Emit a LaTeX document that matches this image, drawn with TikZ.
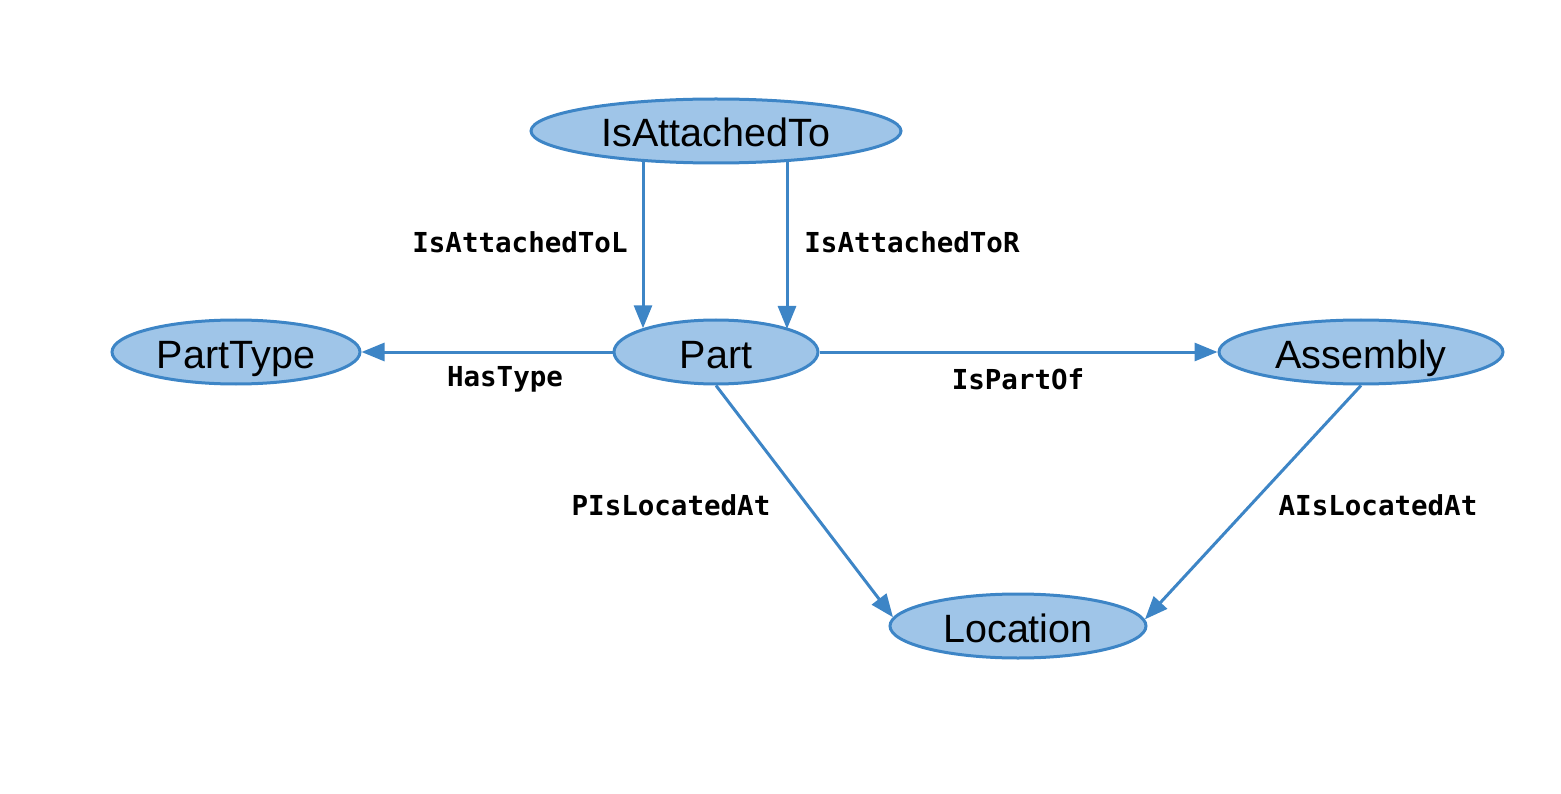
\documentclass[tikz,border=0pt]{standalone}
\usepackage{fontspec}
\setmainfont{Liberation Sans}
\newfontfamily\lblfont{DejaVu Sans Mono}
\usetikzlibrary{shapes.geometric,arrows.meta}
\definecolor{nfill}{HTML}{9FC5E8}
\definecolor{nline}{HTML}{3D85C6}
\tikzset{
  ent/.style={ellipse, draw=nline, fill=nfill, line width=3pt, inner sep=0pt,
    font=\fontsize{39.5}{42}\selectfont, text=black, text height=32pt, text depth=0pt},
  edge/.style={draw=nline, line width=3pt, -{Triangle[length=23pt,width=18pt]}},
  lbl/.style={font=\lblfont\bfseries\fontsize{27.5}{30}\selectfont, text=black, inner sep=0pt}
}
\begin{document}
\begin{tikzpicture}[x=1pt,y=-1pt]
\useasboundingbox (0,0) rectangle (1561,794);
\node[ent, minimum width=370pt, minimum height=64pt] (ia) at (716,131) {IsAttachedTo};
\node[ent, minimum width=248pt, minimum height=64pt] (pt) at (236,352) {PartType};
\node[ent, minimum width=204pt, minimum height=64pt] (part) at (716,352) {Part};
\node[ent, minimum width=284pt, minimum height=64pt] (asm) at (1361,352) {Assembly};
\node[ent, minimum width=256pt, minimum height=64pt] (loc) at (1018,626) {Location};

\coordinate (xL) at (643,0);
\coordinate (xR) at (787,0);
\draw[edge] (xL |- ia.201.9) -- (xL |- part.162.9);
\draw[edge] (xR |- ia.337.4) -- (xR |- part.17.9);
\draw[edge] (part.west) -- (pt.east);
\draw[edge] (part.east) -- (asm.west);
\draw[edge] (part.south) -- (loc.176.5);
\draw[edge] (asm.south) -- (loc.3.5);

\node[lbl] (l1) at (520,242) {IsAttachedToL};
\node[lbl] (l2) at (912,242) {IsAttachedToR};
\node[lbl] (l3) at (505,379) {HasType};
\node[lbl] (l4) at (1018,379) {IsPartOf};
\node[lbl] (l5) at (671,505) {PIsLocatedAt};
\node[lbl] (l6) at (1378,505) {AIsLocatedAt};
\end{tikzpicture}
\end{document}
